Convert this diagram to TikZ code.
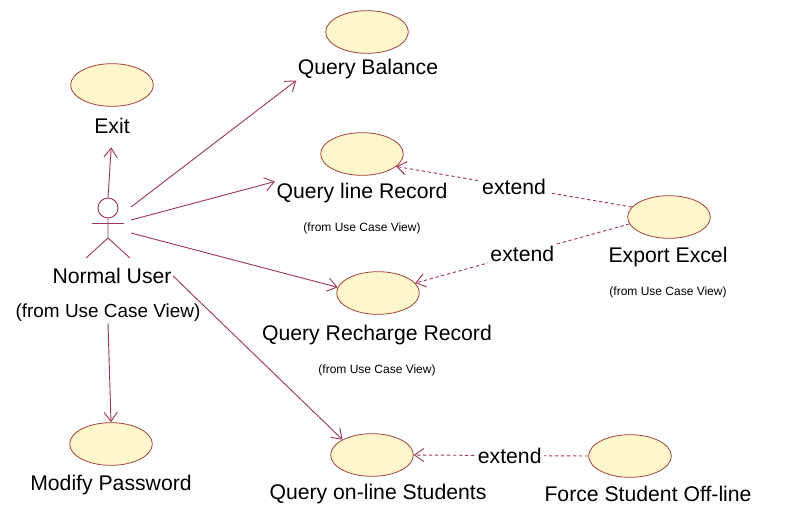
\documentclass[tikz,border=0pt]{standalone}
\usepackage{fontspec}
\setmainfont{Liberation Sans}
\usetikzlibrary{arrows.meta,shapes.geometric}
\definecolor{linkred}{HTML}{9E3A5C}
\definecolor{caseline}{HTML}{A0443C}
\definecolor{casefill}{HTML}{FFF6CC}
\tikzset{
	usecase/.style = {ellipse, draw = caseline, fill = casefill, line width = 0.6pt,
		minimum width = 62pt, minimum height = 32pt, inner sep = 0pt},
	caselabel/.style = {font = \fontsize{15.9}{18}\selectfont, inner sep = 1pt},
	fromlabel/.style = {font = \fontsize{9}{11}\selectfont, inner sep = 1pt},
	assoc/.style = {draw = linkred, line width = 0.7pt, -{Straight Barb[length = 7pt, width = 10pt]}},
	extendline/.style = {draw = linkred, line width = 0.7pt, dash pattern = on 2.5pt off 2pt,
		-{Straight Barb[length = 7pt, width = 10pt]}},
	extendlabel/.style = {caselabel, fill = white, inner sep = 2pt}
}
\begin{document}
\begin{tikzpicture}[x = 0.75pt, y = -0.75pt]
		\useasboundingbox (0,0) rectangle (798,515);
		% use cases
		\node [usecase] (exit) at (112,85) {};
		\node [usecase] (qb) at (367,32) {};
		\node [usecase] (qlr) at (362,154) {};
		\node [usecase] (qrr) at (378,293) {};
		\node [usecase] (ee) at (669,217) {};
		\node [usecase] (qos) at (372,455) {};
		\node [usecase] (fso) at (630,456) {};
		\node [usecase] (mp) at (111,444) {};
		% texts
		\node [caselabel] (exitlbl) at (112,126) {Exit};
		\node [caselabel] (qblbl) at (368,69) {Query Balance};
		\node [caselabel] (qlrlbl) at (362,193) {Query line Record};
		\node [fromlabel] (qlrfrom) at (362,228) {(from Use Case View)};
		\node [caselabel] (qrrlbl) at (377,335) {Query Recharge Record};
		\node [fromlabel] (qrrfrom) at (377,370) {(from Use Case View)};
		\node [caselabel] (eelbl) at (668,257) {Export Excel};
		\node [fromlabel] (eefrom) at (668,292) {(from Use Case View)};
		\node [caselabel] (qoslbl) at (378,494) {Query on-line Students};
		\node [caselabel] (fsolbl) at (648,494) {Force Student Off-line};
		\node [caselabel] (mplbl) at (111,485) {Modify Password};
		% actor
		\node [circle, draw = linkred, line width = 0.7pt, minimum size = 15pt, inner sep = 0pt] (user) at (108,208) {};
		\draw [linkred, line width = 0.7pt] (user.south) -- (108,238) -- (86,258);
		\draw [linkred, line width = 0.7pt] (108,238) -- (130,258);
		\draw [linkred, line width = 0.7pt] (92,223) -- (124,223);
		\node [caselabel] (userlbl) at (112,276) {Normal User};
		\node [caselabel, font = \fontsize{14.2}{16}\selectfont] (userfrom) at (108,313) {(from Use Case View)};
		\coordinate (hand1) at (131,207);
		\coordinate (hand2) at (131,220);
		\coordinate (hand3) at (131,233);
		% associations
		\draw [assoc, shorten > = 9pt] (user.north) -- (exitlbl.south);
		\draw [assoc] (hand1) -- (qblbl.south west);
		\draw [assoc] (hand2) -- (qlrlbl.north west);
		\draw [assoc] (hand3) -- (qrr.172);
		\draw [assoc] (userlbl.east) -- (qos.north west);
		\draw [assoc] (userfrom.south) -- (mp.north);
		% extends
		\draw [extendline] (ee.165) -- node [extendlabel] {extend} (qlr.-20);
		\draw [extendline] (ee.190) -- node [extendlabel] {extend} (qrr.15);
		\draw [extendline] (fso.west) -- node [extendlabel, pos = 0.45] {extend} (qos.east);
	\end{tikzpicture}
\end{document}
